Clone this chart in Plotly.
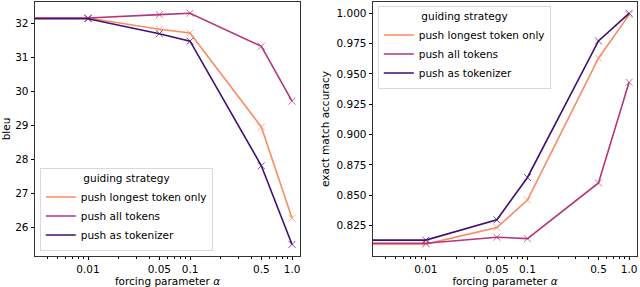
import plotly.graph_objects as go

alpha = [0.001, 0.01, 0.05, 0.1, 0.5, 1.0]
tick_vals = [0.01, 0.05, 0.1, 0.5, 1.0]
tick_text = ["0.01", "0.05", "0.1", "0.5", "1.0"]
names = ["push longest token only", "push all tokens", "push as tokenizer"]
colors = ["#fc8a62", "#b5367a", "#3f0f72"]

bleu_longest = [32.15, 32.15, 31.82, 31.71, 28.95, 26.27]
bleu_all = [32.15, 32.15, 32.25, 32.29, 31.32, 29.71]
bleu_tokenizer = [32.13, 32.13, 31.69, 31.47, 27.81, 25.50]

em_longest = [0.8098, 0.8098, 0.8234, 0.8461, 0.9630, 0.9987]
em_all = [0.8105, 0.8105, 0.8155, 0.8143, 0.8602, 0.9431]
em_tokenizer = [0.8131, 0.8131, 0.8298, 0.8647, 0.9772, 1.0000]

bleu_ticks = [26, 27, 28, 29, 30, 31, 32]
em_ticks = [0.825, 0.85, 0.875, 0.9, 0.925, 0.95, 0.975, 1.0]

minor_vals = [0.003, 0.004, 0.005, 0.006, 0.007, 0.008, 0.009,
              0.02, 0.03, 0.04, 0.06, 0.07, 0.08, 0.09,
              0.2, 0.3, 0.4, 0.6, 0.7, 0.8, 0.9]

FONT = "DejaVu Sans"
W, H = 640, 287
ML, MR, MT, MB = 35, 3, 2, 31
PW, PH = W - ML - MR, H - MT - MB


def px_x(p):
    return (p - ML) / PW


def px_y(p):
    return 1 - (p - MT) / PH


fig = go.Figure()

panels = [
    ("x", "y", "legend", [bleu_longest, bleu_all, bleu_tokenizer]),
    ("x2", "y2", "legend2", [em_longest, em_all, em_tokenizer]),
]
for xa, ya, lg, series in panels:
    for name, col, vals in zip(names, colors, series):
        fig.add_trace(go.Scatter(
            x=alpha, y=vals, mode="lines", name=name, xaxis=xa, yaxis=ya,
            line=dict(color=col, width=1.6), legend=lg, showlegend=True))
        fig.add_trace(go.Scatter(
            x=alpha, y=vals, mode="markers", xaxis=xa, yaxis=ya,
            marker=dict(symbol="x-thin", size=7, opacity=0.7,
                        line=dict(color=col, width=1)),
            showlegend=False, hoverinfo="skip", cliponaxis=True))

common_x = dict(
    type="log", range=[-2.52, 0.078], tickmode="array", tickvals=tick_vals,
    ticktext=tick_text, ticks="outside", ticklen=3.5, tickwidth=0.8,
    tickcolor="black", showline=True, linecolor="#333", linewidth=0.8,
    mirror=True, showgrid=False, zeroline=False, automargin=False,
    tickfont=dict(size=10.5, color="black", family=FONT),
    title=dict(text="forcing parameter <i>α</i>", standoff=1,
               font=dict(size=10.5, color="black", family=FONT)),
    minor=dict(tickmode="array", tickvals=minor_vals, ticks="outside",
               ticklen=2, tickwidth=0.6, tickcolor="black", showgrid=False),
)
common_y = dict(
    ticks="outside", ticklen=3.5, tickwidth=0.8, tickcolor="black",
    showline=True, linecolor="#333", linewidth=0.8, mirror=True,
    showgrid=False, zeroline=False, automargin=False,
    tickfont=dict(size=10.5, color="black", family=FONT),
)

legend_common = dict(
    xanchor="left", bgcolor="rgba(255,255,255,0.8)", bordercolor="#d0d0d0",
    borderwidth=0.8, font=dict(size=10.5, family=FONT),
    title=dict(text="guiding strategy", side="top center",
               font=dict(size=10.5, family=FONT)),
    tracegroupgap=0, itemwidth=30,
)

fig.update_layout(
    width=W, height=H,
    margin=dict(l=ML, r=MR, t=MT, b=MB, autoexpand=False),
    paper_bgcolor="white", plot_bgcolor="white",
    font=dict(family=FONT, size=10.5, color="black"),
    xaxis=dict(domain=[px_x(35), px_x(300)], anchor="y", **common_x),
    xaxis2=dict(domain=[px_x(373), px_x(637)], anchor="y2", **common_x),
    yaxis=dict(domain=[0, 1], anchor="x", range=[25.16, 32.62],
               tickmode="array", tickvals=bleu_ticks,
               ticktext=[str(v) for v in bleu_ticks],
               title=dict(text="bleu", standoff=7,
                          font=dict(size=10.5, color="black", family=FONT)),
               **common_y),
    yaxis2=dict(domain=[0, 1], anchor="x2", range=[0.8, 1.0093],
                tickmode="array", tickvals=em_ticks,
                ticktext=[f"{v:.3f}" for v in em_ticks],
                title=dict(text="exact match accuracy", standoff=4,
                           font=dict(size=10.5, color="black", family=FONT)),
                **common_y),
    legend=dict(x=px_x(40), y=px_y(251), yanchor="bottom", **legend_common),
    legend2=dict(x=px_x(378), y=px_y(6), yanchor="top", **legend_common),
)

fig.write_html(
    "out.html",
    config={"displayModeBar": False},
    post_script="document.body.style.margin='0';document.body.style.overflow='hidden';",
)
